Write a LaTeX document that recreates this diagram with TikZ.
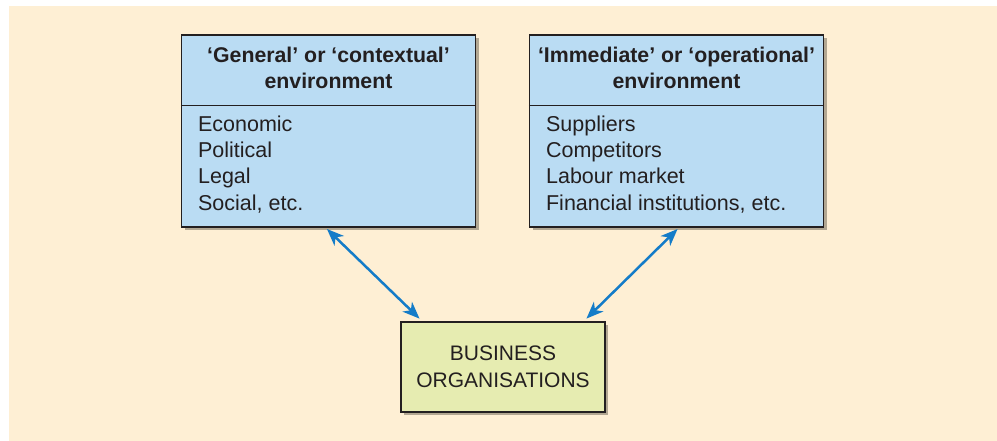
\documentclass[tikz,border=0pt]{standalone}
\usepackage{fontspec}
\setmainfont{Liberation Sans}
\usetikzlibrary{arrows.meta,positioning,shadows,calc}
\definecolor{bgcream}{RGB}{254,239,212}
\definecolor{envblue}{RGB}{186,220,243}
\definecolor{orggreen}{RGB}{230,236,177}
\definecolor{arrowblue}{RGB}{20,124,200}
\definecolor{shadowgray}{RGB}{178,167,146}
\definecolor{inkgray}{RGB}{35,31,32}

\begin{document}
\begin{tikzpicture}[x=1pt, y=1pt,
    boxshadow/.style={drop shadow={shadow xshift=3pt, shadow yshift=-3pt, fill=shadowgray, opacity=1}},
    envbox/.style={draw=inkgray, line width=1.2pt, fill=envblue, minimum width=294pt, minimum height=192pt, boxshadow},
    orgbox/.style={draw=inkgray, line width=1.2pt, fill=orggreen, minimum width=204pt, minimum height=90pt, boxshadow,
        align=center, text=inkgray, font=\fontsize{21}{27}\selectfont},
    headtext/.style={inner sep=0pt, align=center, text=inkgray, font=\fontsize{21.3}{26}\selectfont\bfseries},
    listtext/.style={inner sep=0pt, align=left, text=inkgray, font=\fontsize{21.5}{26.3}\selectfont},
    divider/.style={draw=inkgray, line width=1pt},
    linkarrow/.style={draw=arrowblue, line width=2.5pt, {Stealth[length=17pt, width=13.5pt, inset=5pt]}-{Stealth[length=17pt, width=13.5pt, inset=5pt]}, shorten <=2pt, shorten >=4pt}]
  \useasboundingbox (0,0) rectangle (997,441);
  \fill[bgcream] (9,0) rectangle (997,435);

  % the two environments
  \draw node[envbox] (gen) at (328.5,310) {};
  \draw node[envbox] (imm) at (676.5,310) {};
  \draw node[headtext, below=12.5pt of gen.north] (genhead) {‘General’ or ‘contextual’\\environment};
  \draw node[headtext, below=12.5pt of imm.north] (immhead) {‘Immediate’ or ‘operational’\\environment};
  \draw[divider] ([yshift=-71pt]gen.north west) -- ([yshift=-71pt]gen.north east);
  \draw[divider] ([yshift=-71pt]imm.north west) -- ([yshift=-71pt]imm.north east);
  \draw node[listtext, below right=81pt and 17pt of gen.north west] (genlist) {Economic\\Political\\Legal\\Social, etc.};
  \draw node[listtext, below right=81pt and 17pt of imm.north west] (immlist) {Suppliers\\Competitors\\Labour market\\Financial institutions, etc.};

  % the organisation
  \draw node[orgbox] (org) at (503,74) {BUSINESS\\ORGANISATIONS};

  \draw[linkarrow] ([xshift=-3pt]gen.south) -- ([xshift=22pt]org.north west);
  \draw[linkarrow] ([xshift=2.5pt]imm.south) -- ([xshift=-22pt]org.north east);
\end{tikzpicture}
\end{document}
